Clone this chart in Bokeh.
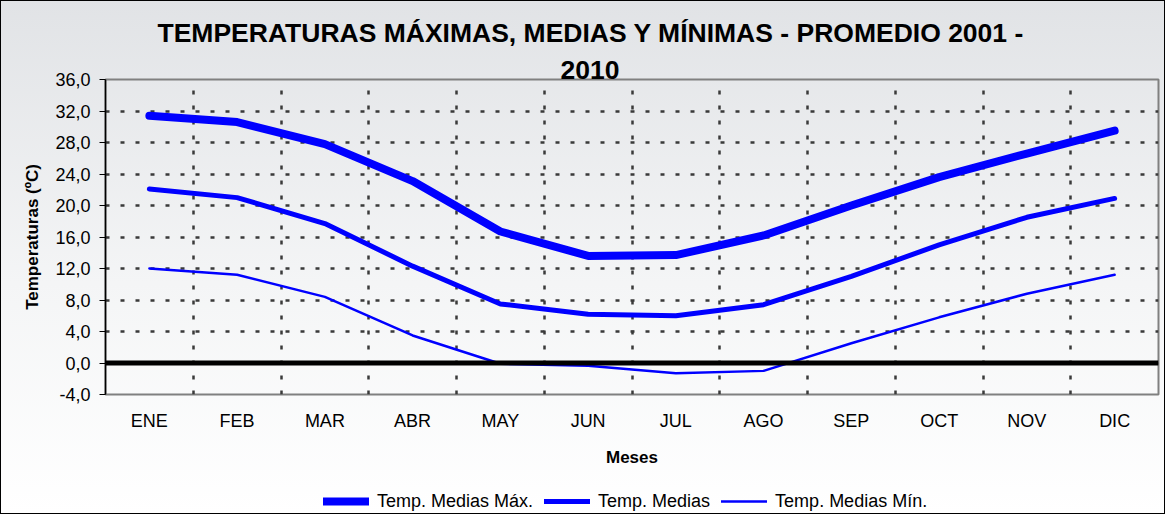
from bokeh.plotting import figure
from bokeh.models import Range1d, FixedTicker, Span, Legend, LegendItem, Title
from bokeh.layouts import column
from bokeh.embed import file_html
from bokeh.resources import INLINE

months = ["ENE", "FEB", "MAR", "ABR", "MAY", "JUN", "JUL", "AGO", "SEP", "OCT", "NOV", "DIC"]
temp_max = [31.4, 30.6, 27.8, 23.1, 16.7, 13.6, 13.7, 16.2, 20.0, 23.6, 26.6, 29.5]
temp_med = [22.1, 21.0, 17.7, 12.3, 7.5, 6.2, 6.0, 7.4, 11.0, 15.0, 18.5, 20.9]
temp_min = [12.0, 11.2, 8.4, 3.5, -0.1, -0.35, -1.3, -1.0, 2.5, 5.8, 8.8, 11.2]
y_ticks = [-4, 0, 4, 8, 12, 16, 20, 24, 28, 32, 36]
series_names = ["Temp. Medias Máx.", "Temp. Medias", "Temp. Medias Mín."]
title_line1 = "TEMPERATURAS MÁXIMAS, MEDIAS Y MÍNIMAS - PROMEDIO 2001 -"
title_line2 = "2010"

FONT = "Liberation Sans"
x = list(range(len(months)))
widths = [8, 5, 2.5]
series_all = [temp_max, temp_med, temp_min]

p = figure(width=1163, height=468, output_backend="svg", toolbar_location=None,
           x_range=Range1d(-0.5, len(months) - 0.5), y_range=Range1d(-4, 36),
           min_border_left=104, min_border_right=6, min_border_top=78, min_border_bottom=75)
p.background_fill_alpha = 0
p.border_fill_alpha = 0
p.outline_line_color = "#808080"
p.outline_line_width = 2

# title: two lines (the added Title sits next to the plot area)
p.title.text = title_line1
p.title.align = "left"
p.title.offset = 52
p.title.standoff = 20
p.title.text_font = FONT
p.title.text_font_size = "26.5px"
p.title.text_font_style = "bold"
p.title.text_color = "#000000"
p.add_layout(Title(text=title_line2, align="left", offset=455, standoff=2,
                   text_font=FONT, text_font_size="26.5px", text_font_style="bold",
                   text_color="#000000"), "above")

# axes
xa = p.xaxis[0]
xa.ticker = FixedTicker(ticks=x)
xa.major_label_overrides = {i: m for i, m in enumerate(months)}
xa.major_tick_out = 0
xa.major_tick_in = 0
xa.minor_tick_out = 0
xa.minor_tick_in = 0
xa.axis_line_color = None
xa.major_label_standoff = 16
xa.major_label_text_font = FONT
xa.major_label_text_font_size = "18px"
xa.major_label_text_color = "#000000"
xa.axis_label = "Meses"
xa.axis_label_text_font = FONT
xa.axis_label_text_font_size = "17px"
xa.axis_label_text_font_style = "bold"
xa.axis_label_text_color = "#000000"
xa.axis_label_standoff = 14

ya = p.yaxis[0]
ya.ticker = FixedTicker(ticks=y_ticks)
ya.major_label_overrides = {t: f"{t:.1f}".replace(".", ",") for t in y_ticks}
ya.major_tick_out = 6
ya.major_tick_in = 0
ya.minor_tick_out = 0
ya.minor_tick_in = 0
ya.axis_line_color = "#000000"
ya.axis_line_width = 1.5
ya.major_tick_line_color = "#000000"
ya.major_label_standoff = 9
ya.major_label_text_font = FONT
ya.major_label_text_font_size = "18px"
ya.major_label_text_color = "#000000"
ya.axis_label = "Temperaturas (ºC)"
ya.axis_label_text_font = FONT
ya.axis_label_text_font_size = "17px"
ya.axis_label_text_font_style = "bold"
ya.axis_label_text_color = "#000000"
ya.axis_label_standoff = 10

# grids (vertical lines on category boundaries)
p.xgrid[0].ticker = FixedTicker(ticks=[i + 0.5 for i in x[:-1]])
p.ygrid[0].ticker = FixedTicker(ticks=y_ticks)
for g in (p.xgrid[0], p.ygrid[0]):
    g.grid_line_color = "#3a3a3a"
    g.grid_line_width = 2.5
    g.grid_line_dash = "4 11"

# zero line
p.add_layout(Span(location=0, dimension="width", line_color="#000000", line_width=5))

for series, w in zip(series_all, widths):
    p.line(x, series, line_color="#0000ff", line_width=w, line_join="round", line_cap="round")

# legend strip below the chart (its renderers lie outside its visible range)
pl = figure(width=1163, height=44, output_backend="svg", toolbar_location=None,
            x_axis_type=None, y_axis_type=None,
            x_range=Range1d(-0.5, len(months) - 0.5), y_range=Range1d(1000, 1001),
            min_border=0)
pl.background_fill_alpha = 0
pl.border_fill_alpha = 0
pl.outline_line_color = None
items = []
for name, series, w in zip(series_names, series_all, widths):
    r = pl.line(x, series, line_color="#0000ff", line_width=w, line_cap="round")
    items.append(LegendItem(label=name, renderers=[r]))
legend = Legend(items=items, orientation="horizontal", location=(218, 1),
                glyph_width=46, glyph_height=22, label_height=22, label_standoff=8,
                spacing=11, padding=0, margin=0,
                background_fill_alpha=0, border_line_color=None,
                label_text_font=FONT, label_text_font_size="18px", label_text_color="#000000")
pl.add_layout(legend)

layout = column(p, pl, spacing=0,
                styles={"background": "linear-gradient(to bottom, #e1e3e6 0%, #f4f5f6 55%, #ffffff 100%)",
                        "border": "1px solid #000000"})

open("out.html", "w").write(file_html(layout, INLINE))
